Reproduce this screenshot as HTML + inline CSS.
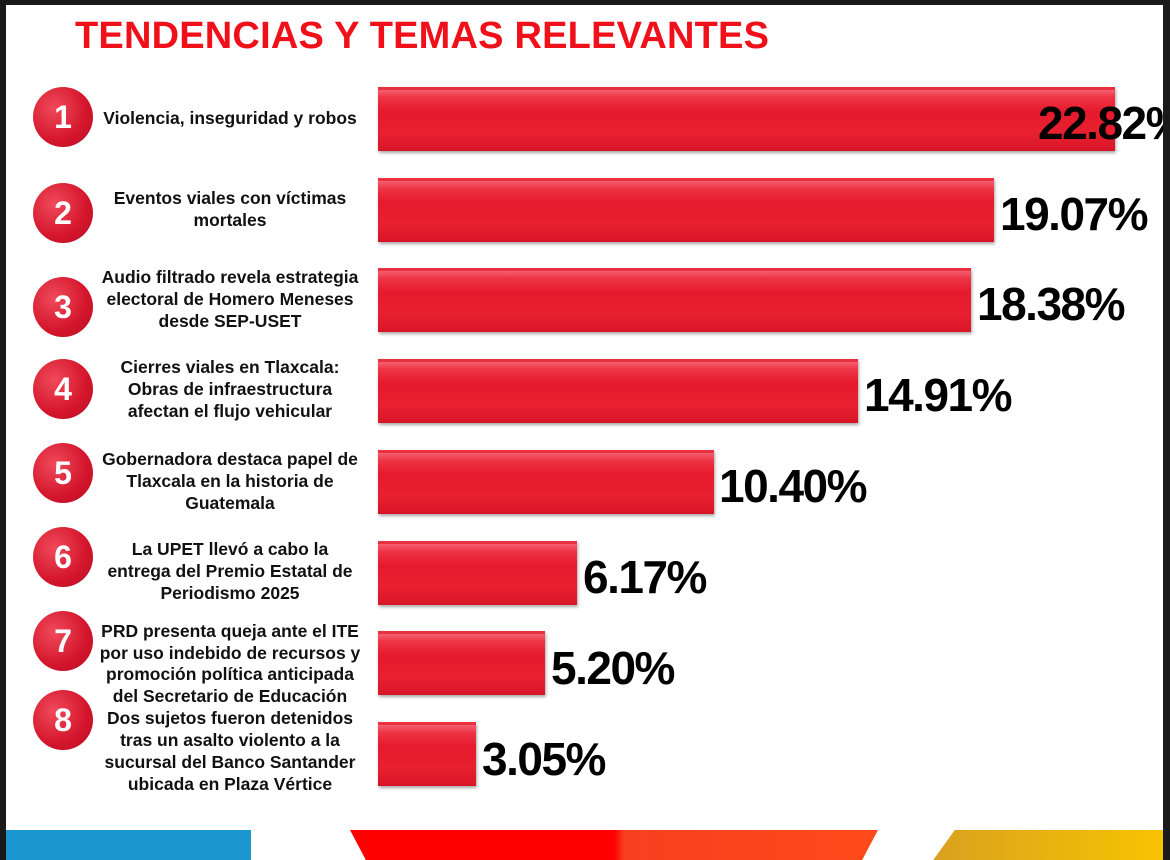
<!DOCTYPE html><html><head><style>
body{margin:0;width:1170px;height:860px;background:#1a1a1a;overflow:hidden;position:relative;font-family:"Liberation Sans",sans-serif}
.pg{position:absolute;left:6px;top:5px;width:1157px;height:855px;background:#fff;overflow:hidden}
h1{position:absolute;left:69px;top:10px;margin:0;color:#f0101a;font-size:38px;font-weight:bold;letter-spacing:0.2px}
.c{position:absolute;left:27px;width:60px;height:60px;border-radius:50%;background:radial-gradient(circle at 35% 35%,#f04a5a,#d3152c 60%,#b80f22);color:#fff;font-weight:bold;font-size:32px;text-align:center;line-height:60px}
.l{position:absolute;left:80px;width:288px;text-align:center;font-weight:bold;font-size:17.5px;line-height:22px;color:#111;white-space:nowrap}
.b{position:absolute;left:372px;height:64px;background:linear-gradient(#f46070 0%,#ee3445 12%,#e61a2e 35%,#e8202f 70%,#d81528 100%);border-top:3px solid #e83040;box-sizing:border-box;box-shadow:1px 2px 3px rgba(0,0,0,.35)}
.p{position:absolute;font-weight:bold;font-size:46px;color:#000;letter-spacing:-1.5px}
</style></head><body><div class="pg">
<h1>TENDENCIAS Y TEMAS RELEVANTES</h1>

<div class="c" style="top:82px">1</div><div class="l" style="top:102px">Violencia, inseguridad y robos</div>
<div class="b" style="top:82px;width:737px"></div><div class="p" style="left:1032px;top:91px">22.82%</div>

<div class="c" style="top:178px">2</div><div class="l" style="top:182px">Eventos viales con víctimas<br>mortales</div>
<div class="b" style="top:173px;width:616px"></div><div class="p" style="left:994px;top:182px">19.07%</div>

<div class="c" style="top:272px">3</div><div class="l" style="top:261px">Audio filtrado revela estrategia<br>electoral de Homero Meneses<br>desde SEP-USET</div>
<div class="b" style="top:263px;width:593px"></div><div class="p" style="left:971px;top:272px">18.38%</div>

<div class="c" style="top:354px">4</div><div class="l" style="top:351px">Cierres viales en Tlaxcala:<br>Obras de infraestructura<br>afectan el flujo vehicular</div>
<div class="b" style="top:354px;width:480px"></div><div class="p" style="left:858px;top:363px">14.91%</div>

<div class="c" style="top:438px">5</div><div class="l" style="top:443px">Gobernadora destaca papel de<br>Tlaxcala en la historia de<br>Guatemala</div>
<div class="b" style="top:445px;width:336px"></div><div class="p" style="left:713px;top:454px">10.40%</div>

<div class="c" style="top:522px">6</div><div class="l" style="top:533px">La UPET llevó a cabo la<br>entrega del Premio Estatal de<br>Periodismo 2025</div>
<div class="b" style="top:536px;width:199px"></div><div class="p" style="left:577px;top:545px">6.17%</div>

<div class="c" style="top:606px">7</div><div class="l" style="top:616px;line-height:21.7px">PRD presenta queja ante el ITE<br>por uso indebido de recursos y<br>promoción política anticipada<br>del Secretario de Educación</div>
<div class="b" style="top:626px;width:167px"></div><div class="p" style="left:545px;top:636px">5.20%</div>

<div class="c" style="top:685px">8</div><div class="l" style="top:702px;line-height:22px">Dos sujetos fueron detenidos<br>tras un asalto violento a la<br>sucursal del Banco Santander<br>ubicada en Plaza Vértice</div>
<div class="b" style="top:717px;width:98px"></div><div class="p" style="left:476px;top:727px">3.05%</div>

<div style="position:absolute;left:0;top:825px;width:245px;height:40px;background:#1b97cf"></div>
<div style="position:absolute;left:344px;top:825px;width:528px;height:40px;background:linear-gradient(90deg,#fe0000 0%,#fe0000 50%,#f6401f 52%,#ff4a1a 100%);clip-path:polygon(0 0,100% 0,96% 100%,4% 100%)"></div>
<div style="position:absolute;left:920px;top:825px;width:240px;height:40px;background:linear-gradient(90deg,#d8a020,#f8c400);clip-path:polygon(12% 0,100% 0,100% 100%,0 100%)"></div>
</div></body></html>
